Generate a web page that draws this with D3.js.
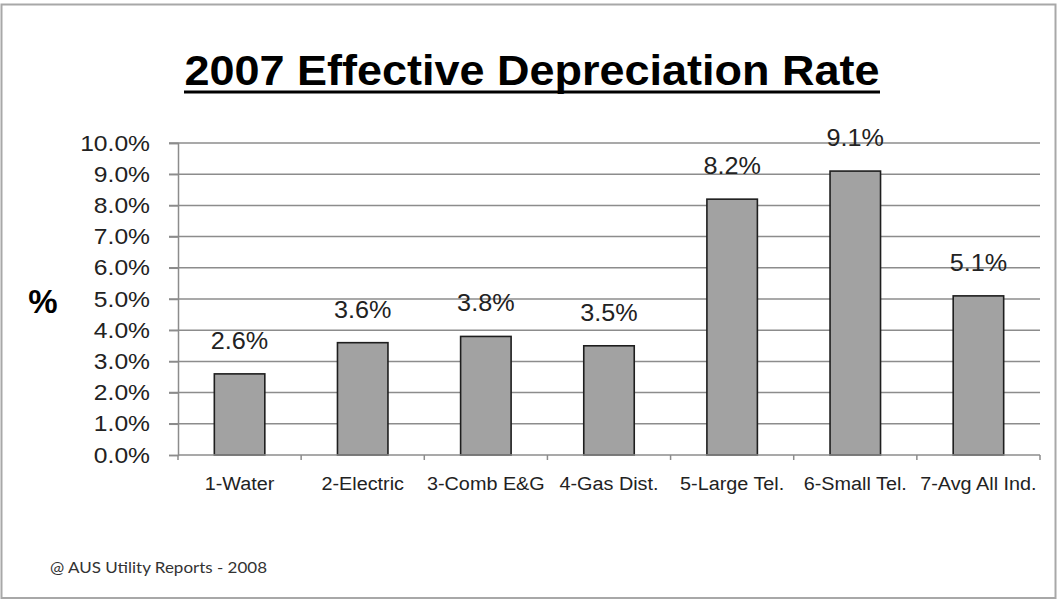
<!DOCTYPE html>
<html>
<head>
<meta charset="utf-8">
<script src="https://cdn.jsdelivr.net/npm/d3@7"></script>
<style>
  body { margin: 0; background: #fff; }
  svg { display: block; }
  text { font-family: "Liberation Sans", Arial, sans-serif; }
</style>
</head>
<body>
<svg></svg>
<script>
const width = 1058;
const height = 600;

// data
const categories = ["1-Water", "2-Electric", "3-Comb E&G", "4-Gas Dist.", "5-Large Tel.", "6-Small Tel.", "7-Avg All Ind."];
const rates = [2.6, 3.6, 3.8, 3.5, 8.2, 9.1, 5.1];
const yTicks = [0, 1, 2, 3, 4, 5, 6, 7, 8, 9, 10];
const titleText = "2007 Effective Depreciation Rate";
const footerText = "@ AUS Utility Reports - 2008";

const plot = {left: 178, right: 1040, top: 143, bottom: 455};

var svg = d3.select("svg").attr("width", width).attr("height", height);

// the slide text is a bit wider than plain Arial
function widen(sel, k) {
  sel.each(function() {
    var len = this.getComputedTextLength();
    d3.select(this).attr("textLength", len * k).attr("lengthAdjust", "spacingAndGlyphs");
  });
}

// frame
svg.append("rect")
  .attr("x", 1.5).attr("y", 4.5)
  .attr("width", width - 4).attr("height", height - 6.5)
  .attr("fill", "#fff")
  .attr("stroke", "#a8a8a8")
  .attr("stroke-width", 2);

var xScale = d3.scaleBand().domain(categories).range([plot.left, plot.right]).paddingInner(0.59).paddingOuter(0.295);
var xBand = d3.scaleBand().domain(categories).range([plot.left, plot.right]);
var yScale = d3.scaleLinear().domain([0, 10]).range([plot.bottom, plot.top]);

// title
svg.append("text")
  .attr("x", 532).attr("y", 85)
  .attr("text-anchor", "middle")
  .attr("font-weight", "bold")
  .attr("font-size", 42)
  .attr("textLength", 695)
  .attr("lengthAdjust", "spacingAndGlyphs")
  .text(titleText);
svg.append("line")
  .attr("x1", 184).attr("x2", 880)
  .attr("y1", 92).attr("y2", 92)
  .attr("stroke", "#000").attr("stroke-width", 3);

// gridlines
svg.append("g")
  .selectAll("line")
  .data(yTicks.slice(1))
  .enter()
  .append("line")
  .attr("x1", plot.left - 9).attr("x2", plot.right)
  .attr("y1", d => yScale(d)).attr("y2", d => yScale(d))
  .attr("stroke", "#8c8c8c").attr("stroke-width", 1.5);

// y axis
var yAxis = d3.axisLeft(yScale).tickValues(yTicks).tickSize(9).tickPadding(19)
  .tickFormat(d => d.toFixed(1) + "%");
var yg = svg.append("g").attr("transform", `translate(${plot.left},0)`).call(yAxis);
yg.select(".domain").attr("stroke", "#8c8c8c").attr("stroke-width", 1.5);
yg.selectAll(".tick line").attr("stroke", "#8c8c8c").attr("stroke-width", 1.5);
yg.selectAll(".tick text")
  .attr("font-size", 22)
  .attr("fill", "#222")
  .attr("font-family", "Liberation Sans, Arial, sans-serif");
widen(yg.selectAll(".tick text"), 1.12);

svg.append("text")
  .attr("x", 43).attr("y", 313)
  .attr("text-anchor", "middle")
  .attr("font-weight", "bold")
  .attr("font-size", 33)
  .text("%");

// bars
svg.append("g")
  .selectAll("rect")
  .data(rates)
  .enter()
  .append("rect")
  .attr("x", (d, i) => xScale(categories[i]))
  .attr("y", d => yScale(d))
  .attr("width", xScale.bandwidth())
  .attr("height", d => plot.bottom - yScale(d))
  .attr("fill", "#a2a2a2")
  .attr("stroke", "#1e1e1e")
  .attr("stroke-width", 1.6);

// value labels
var vals = svg.append("g")
  .selectAll("text")
  .data(rates)
  .enter()
  .append("text")
  .attr("x", (d, i) => xScale(categories[i]) + xScale.bandwidth() / 2)
  .attr("y", d => yScale(d) - 25)
  .attr("text-anchor", "middle")
  .attr("font-size", 24)
  .attr("fill", "#222")
  .text(d => d.toFixed(1) + "%");
widen(vals, 1.05);

// x axis
svg.append("line")
  .attr("x1", plot.left).attr("x2", plot.right)
  .attr("y1", plot.bottom).attr("y2", plot.bottom)
  .attr("stroke", "#8c8c8c").attr("stroke-width", 1.5);
var bounds = categories.map(c => xBand(c)).concat([plot.right]);
svg.append("g")
  .selectAll("line")
  .data(bounds)
  .enter()
  .append("line")
  .attr("x1", d => d).attr("x2", d => d)
  .attr("y1", plot.bottom).attr("y2", plot.bottom + 5)
  .attr("stroke", "#8c8c8c").attr("stroke-width", 1.5);

var xl = svg.append("g")
  .selectAll("text")
  .data(categories)
  .enter()
  .append("text")
  .attr("x", d => xBand(d) + xBand.bandwidth() / 2)
  .attr("y", 490)
  .attr("text-anchor", "middle")
  .attr("font-size", 18)
  .attr("fill", "#222")
  .text(d => d);
widen(xl, 1.1);

// footer
svg.append("text")
  .attr("x", 50).attr("y", 573)
  .attr("font-size", 15)
  .attr("fill", "#333")
  .attr("textLength", 217)
  .attr("lengthAdjust", "spacingAndGlyphs")
  .style("font-family", "Lato, 'Open Sans', sans-serif")
  .text(footerText);
</script>
</body>
</html>
